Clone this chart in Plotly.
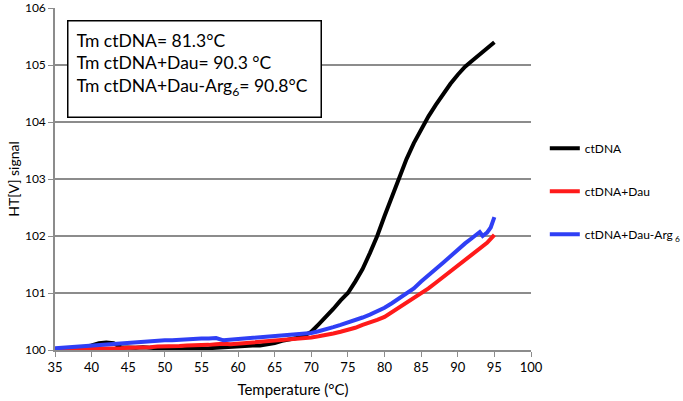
import plotly.graph_objects as go

temps = list(range(35, 96))

ctdna = [100.00, 100.02, 100.03, 100.04, 100.05, 100.08, 100.12, 100.13, 100.12, 100.05,
         100.04, 100.04, 100.05, 100.04, 100.03, 100.02, 100.03, 100.01, 100.02, 100.02,
         100.02, 100.03, 100.04, 100.05, 100.05, 100.06, 100.07, 100.08, 100.08, 100.10,
         100.12, 100.16, 100.18, 100.21, 100.25, 100.32, 100.45, 100.58, 100.72, 100.87,
         101.00, 101.20, 101.42, 101.70, 102.00, 102.35, 102.70, 103.03, 103.35, 103.63,
         103.88, 104.10, 104.30, 104.50, 104.67, 104.83, 104.97, 105.08, 105.18, 105.28,
         105.40]

ctdna_dau = [100.00, 100.00, 100.01, 100.01, 100.02, 100.02, 100.02, 100.03, 100.03, 100.03,
             100.04, 100.04, 100.05, 100.05, 100.06, 100.06, 100.07, 100.07, 100.08, 100.08,
             100.09, 100.09, 100.10, 100.11, 100.10, 100.11, 100.12, 100.13, 100.14, 100.15,
             100.16, 100.17, 100.18, 100.19, 100.20, 100.22, 100.24, 100.26, 100.29, 100.32,
             100.35, 100.39, 100.44, 100.48, 100.53, 100.58, 100.66, 100.74, 100.82, 100.90,
             100.98, 101.08, 101.18, 101.28, 101.38, 101.48, 101.58, 101.70, 101.80, 101.88,
             102.02]

temps_arg = list(range(35, 94)) + [93.4, 94, 94.5, 95]
ctdna_dau_arg = [100.03, 100.04, 100.05, 100.06, 100.07, 100.08, 100.09, 100.10, 100.10, 100.11,
                 100.12, 100.13, 100.15, 100.16, 100.16, 100.17, 100.17, 100.18, 100.18, 100.19,
                 100.20, 100.20, 100.21, 100.17, 100.18, 100.19, 100.20, 100.21, 100.22, 100.23,
                 100.25, 100.25, 100.26, 100.27, 100.28, 100.30, 100.33, 100.36, 100.40, 100.44,
                 100.48, 100.52, 100.57, 100.62, 100.68, 100.74, 100.82, 100.90, 100.98, 101.08,
                 101.20, 101.30, 101.42, 101.53, 101.65, 101.76, 101.87, 101.97, 102.07,
                 102.00, 102.06, 102.15, 102.33]

series_names = ["ctDNA", "ctDNA+Dau", "ctDNA+Dau-Arg<sub> 6</sub>"]
colors = ["#000000", "#ff1a1a", "#2f3ff5"]

x_ticks = list(range(35, 101, 5))
y_ticks = list(range(100, 107))

box_text = ("Tm ctDNA= 81.3°C<br>"
            "Tm ctDNA+Dau= 90.3 °C<br>"
            "Tm ctDNA+Dau-Arg<sub>6</sub>= 90.8°C")

FONT = "Lato"

fig = go.Figure()
for xs, ys, name, c in zip([temps, temps, temps_arg],
                           [ctdna, ctdna_dau, ctdna_dau_arg],
                           series_names, colors):
    fig.add_trace(go.Scatter(x=xs, y=ys, mode="lines", name=name,
                             line=dict(color=c, width=4), legendgroup=name))

fig.update_layout(
    width=683, height=401,
    margin=dict(l=55, r=152, t=8, b=51, autoexpand=False),
    paper_bgcolor="white", plot_bgcolor="white",
    font=dict(family=FONT, color="#000000"),
    showlegend=True,
    legend=dict(x=1.029, xanchor="left", y=0.632, yanchor="top",
                font=dict(size=12, family=FONT), tracegroupgap=24,
                bgcolor="rgba(0,0,0,0)", itemwidth=30),
    xaxis=dict(range=[35, 100], tickvals=x_ticks, showgrid=False,
               showline=True, linecolor="#8c8c8c", linewidth=1.5,
               ticks="outside", ticklen=5, tickcolor="#8c8c8c",
               tickfont=dict(size=13, family=FONT),
               title=dict(text="Temperature (°C)", font=dict(size=15, family=FONT), standoff=10),
               zeroline=False, automargin=False),
    yaxis=dict(range=[100, 106], tickvals=y_ticks, showgrid=True,
               gridcolor="#8c8c8c", gridwidth=1.5,
               showline=True, linecolor="#8c8c8c", linewidth=1.5,
               ticks="outside", ticklen=5, tickcolor="#8c8c8c",
               tickfont=dict(size=12, family=FONT),
               title=dict(text="HT[V] signal", font=dict(size=14, family=FONT), standoff=2),
               zeroline=False, automargin=False),
    annotations=[dict(text=box_text, xref="paper", yref="paper",
                      x=0.025, y=0.965, xanchor="left", yanchor="top",
                      showarrow=False, align="left", valign="top",
                      width=236, height=79, borderpad=8,
                      bordercolor="#000000", borderwidth=1.5, bgcolor="white",
                      font=dict(size=17.5, family=FONT, color="#000000"))],
)

fig.write_html("out.html", config={"displayModeBar": False},
               post_script="document.body.style.margin='0';document.body.style.overflow='hidden';")
